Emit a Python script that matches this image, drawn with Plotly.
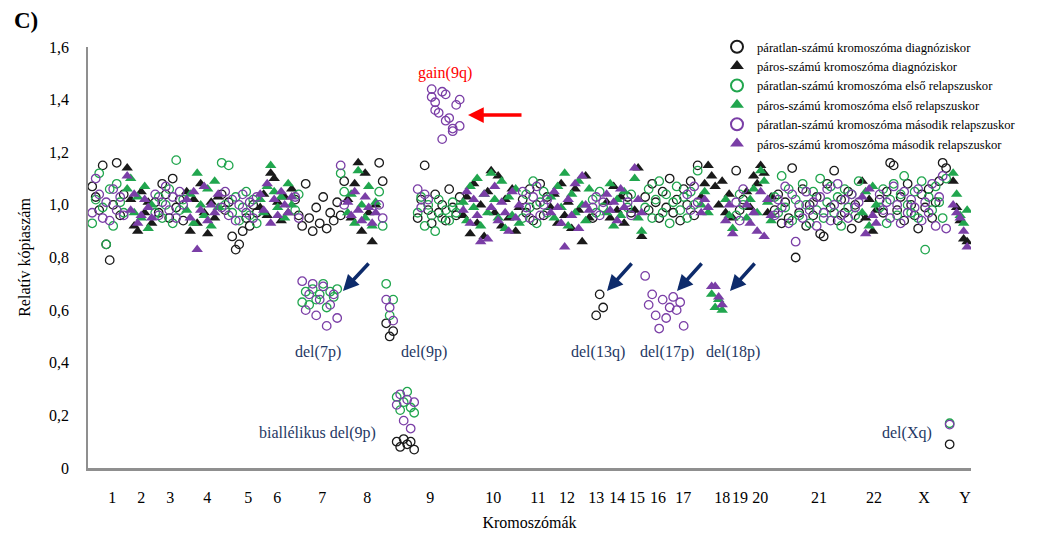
import plotly.graph_objects as go

# ---------------- data ----------------
chromosomes = ["1", "2", "3", "4", "5", "6", "7", "8", "9", "10", "11", "12",
               "13", "14", "15", "16", "17", "18", "19", "20", "21", "22", "X", "Y"]
probe_counts = [10, 8, 9, 10, 11, 10, 15, 9, 24, 17, 8, 12,
                4, 6, 2, 3, 16, 10, 3, 8, 25, 5, 21, 5]

# relative copy number at diagnosis (one value per probe, genomic order)
diag = [
    1.07, 1.03, 0.98, 1.15, 0.85, 0.79, 1.00, 1.16, 0.96, 1.04,
    1.14, 1.02, 0.92, 0.90, 1.05, 0.97, 1.01, 0.93,
    1.01, 0.97, 1.08, 1.04, 0.95, 1.10, 0.99, 1.02, 0.94,
    1.05, 0.90, 1.02, 0.93, 1.08, 0.97, 0.89, 1.01, 0.95, 1.03,
    1.04, 0.98, 1.01, 0.88, 0.83, 0.85, 0.90, 0.95, 0.92, 1.00, 0.97,
    0.99, 1.04, 0.96, 1.12, 1.10, 1.01, 0.94, 1.03, 0.97, 1.06,
    1.02, 0.96, 0.92, 1.08, 0.95, 0.90, 0.99, 0.93, 1.03, 0.91, 0.97, 0.94, 1.01, 0.96, 1.09,
    1.02, 0.95, 1.08, 1.16, 0.90, 1.12, 0.97, 0.86, 1.00,
    1.16, 1.09, 0.55, 0.50, 0.52, 0.10, 0.08, 0.11, 0.09, 0.10, 0.07, 0.95, 1.02, 1.15,
    0.98, 0.93, 1.04, 0.97, 1.00, 0.94, 1.06, 0.99, 0.96, 1.03,
    0.96, 1.03, 0.89, 1.08, 0.93, 1.00, 0.88, 1.05, 1.13, 0.97, 1.11, 0.92, 1.02, 0.95, 1.06, 0.90, 0.99,
    1.02, 0.97, 1.06, 0.94, 1.00, 1.08, 0.96, 1.03,
    0.99, 1.04, 0.93, 1.08, 0.96, 1.01, 0.91, 1.06, 0.98, 0.86, 1.11, 0.95,
    0.95, 0.58, 0.66, 0.61,
    1.01, 0.95, 1.07, 0.98, 1.03, 0.93,
    1.03, 0.97,
    0.98, 1.14, 0.88,
    1.03, 0.98, 1.08, 1.01, 0.95, 1.05, 0.99, 1.10, 0.97, 1.02, 0.94, 1.06, 1.00, 1.09, 0.96, 1.15,
    1.03, 1.08, 1.15, 1.11, 1.07, 1.00, 1.09, 0.97, 1.04, 0.95,
    1.13, 0.98, 1.02,
    1.05, 0.99, 1.11, 1.08, 1.15, 1.12, 0.97, 1.03,
    0.98, 1.04, 0.93, 1.01, 0.95, 1.14, 0.80, 0.97, 1.06, 0.92, 1.00, 0.96, 1.03,
    0.89, 0.88, 1.08, 0.99, 1.13, 0.94, 1.02, 0.97, 1.05, 0.91, 1.00, 0.95,
    1.09, 0.95, 1.02, 0.90, 0.98,
    1.02, 0.97, 1.05, 1.16, 1.15, 0.98, 1.03, 0.94, 1.08, 1.00, 0.96, 0.91, 1.04, 0.99,
    1.06, 0.95, 1.01, 1.09, 1.16, 1.14, 0.09,
    1.09, 0.99, 0.94, 0.87, 0.86,
]

# first relapse
rel1 = [
    0.93, 1.02, 1.12, 0.99, 0.85, 1.06, 0.92, 1.08, 1.01, 0.97,
    1.06, 1.10, 0.97, 1.03, 0.95, 1.07, 0.91, 1.00,
    0.97, 1.03, 0.95, 1.00, 1.06, 0.93, 1.17, 0.98, 1.02,
    0.98, 1.04, 0.93, 1.12, 1.00, 0.96, 1.06, 0.92, 1.09, 0.99,
    1.16, 1.00, 1.15, 0.97, 1.03, 0.94, 0.99, 1.05, 0.96, 1.02, 0.93,
    1.02, 0.97, 1.07, 1.15, 1.05, 0.99, 1.03, 0.95, 1.08, 1.00,
    0.98, 1.04, 0.63, 0.67, 0.62, 0.68, 0.64, 0.66, 0.70, 0.61, 0.67, 0.65, 0.68, 1.12, 1.05,
    0.97, 1.04, 0.93, 1.13, 1.00, 0.95, 1.07, 0.92, 1.01,
    1.05, 0.92, 0.70, 0.58, 0.64, 0.27, 0.22, 0.25, 0.29, 0.23, 0.21, 0.97, 1.03, 0.92,
    1.00, 0.96, 0.90, 1.02, 0.95, 0.98, 0.94, 1.01, 0.97, 0.99,
    1.01, 0.94, 1.07, 0.99, 1.10, 0.92, 1.04, 0.97, 1.12, 1.02, 0.95, 1.09, 0.91, 1.03, 0.96, 1.06, 0.93,
    0.95, 1.04, 0.99, 1.09, 0.93, 1.01, 1.05, 0.97,
    1.03, 0.95, 1.07, 0.99, 1.12, 0.92, 1.04, 0.97, 1.09, 1.00, 0.94, 1.06,
    1.02, 0.97, 1.05, 0.99,
    0.97, 1.08, 0.92, 1.02, 0.96, 1.05,
    0.99, 1.04,
    1.10, 0.95, 0.90,
    0.99, 1.06, 0.95, 1.02, 1.09, 0.97, 1.04, 0.93, 1.01, 1.07, 0.98, 1.03, 0.95, 1.05, 1.00, 1.13,
    1.00, 1.05, 0.97, 0.66, 0.61, 0.64, 0.60, 1.02, 0.96, 0.91,
    0.96, 1.04, 1.00,
    0.95, 1.02, 1.06, 0.97, 1.13, 1.09, 1.01, 0.94,
    1.03, 0.97, 1.11, 0.99, 1.06, 0.94, 1.02, 0.96, 1.08, 1.00, 0.93, 1.05, 0.98,
    1.10, 0.95, 1.01, 1.07, 0.97, 1.03, 0.92, 1.06, 0.99, 1.04, 0.96, 1.09,
    0.97, 1.05, 0.92, 1.07, 1.00,
    0.99, 1.06, 0.93, 1.02, 1.08, 0.96, 1.04, 1.11, 1.00, 0.97, 1.05, 0.95, 1.09, 0.83,
    1.03, 0.98, 1.07, 1.01, 0.95, 1.10, 0.17,
    1.12, 1.04, 0.96, 0.93, 0.98,
]

# second relapse
rel2 = [
    0.97, 1.10, 1.04, 0.95, 1.01, 0.94, 1.06, 0.98, 1.03, 0.96,
    1.11, 0.98, 1.04, 0.93, 0.96, 1.02, 0.99, 0.95,
    1.04, 0.96, 1.01, 1.07, 0.98, 1.03, 0.95, 1.05, 1.00,
    1.02, 0.95, 1.05, 0.83, 0.98, 1.07, 0.94, 1.00, 0.97, 1.04,
    0.99, 1.05, 0.96, 1.02, 0.94, 1.00, 1.04, 0.97, 1.01, 0.95, 1.03,
    1.04, 0.98, 1.08, 0.93, 1.02, 0.96, 1.05, 1.00, 0.97, 1.03,
    1.03, 0.95, 0.71, 0.60, 0.66, 0.70, 0.58, 0.64, 0.69, 0.54, 0.62, 0.66, 0.57, 1.15, 1.00,
    1.01, 0.96, 1.05, 0.98, 0.94, 1.03, 0.99, 0.93, 0.97,
    1.00, 0.95, 0.64, 0.61, 0.56, 0.24, 0.28, 0.18, 0.26, 0.15, 0.25, 1.06, 0.99, 1.04,
    1.02, 1.44, 1.39, 1.35, 1.25, 1.42, 1.33, 1.28, 1.38, 1.30,
    0.98, 1.05, 0.93, 1.02, 0.96, 0.86, 1.04, 0.87, 0.99, 1.07, 0.94, 1.01, 0.97, 0.90, 1.05, 0.95, 1.00,
    1.05, 0.99, 0.95, 1.03, 1.07, 0.96, 1.00, 1.02,
    0.97, 1.05, 0.99, 0.93, 0.84, 1.02, 0.96, 1.08, 0.91, 1.11, 1.00, 0.98,
    0.99, 1.03, 0.96, 1.01,
    1.04, 0.98, 1.01, 0.94, 1.06, 0.99,
    1.01, 0.96,
    1.14, 1.02, 0.97,
    0.73, 0.62, 0.66, 0.58, 0.53, 0.64, 0.57, 0.61, 0.65, 0.60, 0.63, 0.54, 1.04, 0.98, 1.07, 1.01,
    0.97, 1.02, 0.99, 0.69, 0.69, 0.65, 0.62, 0.94, 1.00, 0.89,
    1.01, 0.94, 1.06,
    1.00, 0.93, 0.97, 0.90, 1.05, 0.88, 1.02, 0.96,
    0.96, 1.02, 0.99, 1.07, 0.93, 1.04, 0.86, 1.00, 0.95, 1.05, 0.98, 1.01, 0.92,
    1.03, 0.97, 1.06, 0.94, 1.00, 1.08, 0.96, 1.02, 0.95, 1.04, 0.99, 1.01,
    1.03, 0.89, 1.06, 0.96, 0.93,
    1.04, 0.98, 1.01, 0.95, 1.07, 1.00, 0.93, 1.05, 0.97, 1.02, 0.99, 1.06, 0.94, 1.01,
    0.97, 1.08, 0.92, 1.03, 1.11, 0.91, 0.165,
    1.00, 0.97, 0.95, 0.90, 0.84,
]

# additional second-relapse readings on 9q probes (gain region)
gain9q_probe = [97, 98, 100, 101, 103, 105]
gain9q_rel2 = [1.41, 1.36, 1.43, 1.32, 1.29, 1.40]

# chromosome label positions along the probe axis
chrom_label_pos = [5.7, 14.0, 22.3, 32.9, 44.6, 52.9, 65.7, 78.6, 96.6, 114.6, 127.4, 135.7,
                   144.0, 150.0, 155.7, 161.7, 168.9, 180.0, 185.1, 190.9, 207.7, 223.4, 237.7, 249.4]

y_ticks = [0, 0.2, 0.4, 0.6, 0.8, 1.0, 1.2, 1.4, 1.6]
y_ticktext = ["0", "0,2", "0,4", "0,6", "0,8", "1,0", "1,2", "1,4", "1,6"]

total = sum(probe_counts)
assert len(diag) == total and len(rel1) == total and len(rel2) == total

# ---------------- build ----------------
probe_x = []
is_odd = []
i = 0
for c, n in zip(chromosomes, probe_counts):
    odd = (c == "X") or (c not in ("X", "Y") and int(c) % 2 == 1)
    for _ in range(n):
        probe_x.append(i)
        is_odd.append(odd)
        i += 1

SERIF = "Liberation Serif, Times New Roman, serif"
BLACK = "#1a1a1a"
GREEN = "#21a64e"
PURPLE = "#7a3ea6"

series = [
    (diag, BLACK, "diagnóziskor", [], []),
    (rel1, GREEN, "első relapszuskor", [], []),
    (rel2, PURPLE, "második relapszuskor", gain9q_probe, gain9q_rel2),
]

fig = go.Figure()
for vals, col, when, extra_x, extra_y in series:
    for odd in (True, False):
        xs = [x for x, o in zip(probe_x, is_odd) if o == odd]
        ys = [v for v, o in zip(vals, is_odd) if o == odd]
        if odd:
            xs = xs + list(extra_x)
            ys = ys + list(extra_y)
            marker = dict(symbol="circle-open", size=8.5, color=col, line=dict(width=1.3, color=col))
            name = f"páratlan-számú kromoszóma {when}"
        else:
            marker = dict(symbol="triangle-up", size=10, color=col, line=dict(width=0))
            name = f"páros-számú kromoszóma {when}"
        fig.add_trace(go.Scatter(x=xs, y=ys, mode="markers", marker=marker, name=name))

# ---------------- layout ----------------
L, R, T, B = 88, 75, 47, 73
W, H = 1046, 541
PW, PH = W - L - R, H - T - B


def xp(px):
    return (px - L) / PW


def yp(py):
    return (H - B - py) / PH


NAVY = "#1f3864"
annotations = [
    dict(text="<b>C)</b>", x=xp(12), y=yp(20), xanchor="left", yanchor="middle",
         font=dict(size=23, color="black", family=SERIF)),
    dict(text="gain(9q)", x=xp(445), y=yp(73), font=dict(size=16, color="#ff0000", family=SERIF)),
    dict(text="del(7p)", x=xp(318), y=yp(352), font=dict(size=16, color=NAVY, family=SERIF)),
    dict(text="del(9p)", x=xp(424), y=yp(352), font=dict(size=16, color=NAVY, family=SERIF)),
    dict(text="biallélikus del(9p)", x=xp(317), y=yp(433), font=dict(size=16, color=NAVY, family=SERIF)),
    dict(text="del(13q)", x=xp(598), y=yp(352), font=dict(size=16, color=NAVY, family=SERIF)),
    dict(text="del(17p)", x=xp(667), y=yp(352), font=dict(size=16, color=NAVY, family=SERIF)),
    dict(text="del(18p)", x=xp(733), y=yp(352), font=dict(size=16, color=NAVY, family=SERIF)),
    dict(text="del(Xq)", x=xp(907), y=yp(433), font=dict(size=16, color=NAVY, family=SERIF)),
]
for a in annotations:
    a.setdefault("xanchor", "center")
    a.setdefault("yanchor", "middle")
    a.update(xref="paper", yref="paper", showarrow=False)

arrows = [
    (468, 115, 55, 0, "#ff0000"),
    (343, 291, 27, -29, "#0d2b6b"),
    (607, 291, 26, -29, "#0d2b6b"),
    (677, 291, 26, -29, "#0d2b6b"),
    (730, 291, 26, -29, "#0d2b6b"),
]
for hx, hy, dx, dy, col in arrows:
    annotations.append(dict(
        x=xp(hx), y=yp(hy), xref="paper", yref="paper", text="", showarrow=True,
        ax=dx, ay=dy, arrowhead=2, arrowsize=0.9, arrowwidth=3.5, arrowcolor=col,
    ))

fig.update_layout(
    width=W, height=H,
    margin=dict(l=L, r=R, t=T, b=B, pad=0, autoexpand=False),
    paper_bgcolor="white", plot_bgcolor="white",
    font=dict(family=SERIF, color="black"),
    showlegend=True,
    legend=dict(
        x=xp(717), y=yp(32), xanchor="left", yanchor="top",
        font=dict(size=12.6, family=SERIF, color="black"),
        bgcolor="rgba(0,0,0,0)", itemsizing="constant", tracegroupgap=0,
    ),
    annotations=annotations,
    xaxis=dict(
        range=[-1.2, 251.1], showgrid=False, zeroline=False, automargin=False,
        showline=True, linecolor="#8f8f8f", linewidth=2.5,
        tickmode="array", tickvals=chrom_label_pos, ticktext=chromosomes,
        tickangle=0, ticks="outside", ticklen=13, tickcolor="rgba(0,0,0,0)",
        tickfont=dict(size=16, family=SERIF, color="black"),
        title=dict(text="Kromoszómák", font=dict(size=16, family=SERIF, color="black"), standoff=12),
    ),
    yaxis=dict(
        range=[0, 1.6], showgrid=False, zeroline=False, automargin=False,
        showline=True, linecolor="#8f8f8f", linewidth=1.5,
        tickmode="array", tickvals=y_ticks, ticktext=y_ticktext,
        ticks="outside", ticklen=14, tickcolor="rgba(0,0,0,0)",
        tickfont=dict(size=16, family=SERIF, color="black"),
        title=dict(text="Relatív kópiaszám", font=dict(size=16, family=SERIF, color="black"), standoff=14),
    ),
)

fig.write_html("out.html")
